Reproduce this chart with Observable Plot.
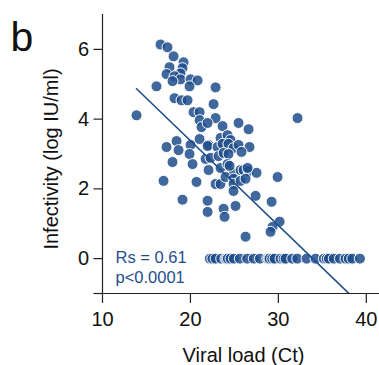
<!DOCTYPE html>
<html>
<head>
<meta charset="utf-8">
<script src="https://cdn.jsdelivr.net/npm/d3@7"></script>
<script src="https://cdn.jsdelivr.net/npm/@observablehq/plot@0.6"></script>
<style>
  html, body { margin: 0; padding: 0; background: #fff; }
  svg { display: block; }
</style>
</head>
<body>
<div id="chart"></div>
<script>
// Positive samples: viral load (Ct) and infectivity (log IU/ml)
const ctPos = [16.60,17.39,18.08,19.22,17.62,19.10,18.87,17.28,18.19,18.87,17.96,20.01,20.81,19.90,16.14,22.86,
  18.19,18.99,19.67,22.63,13.87,20.35,21.04,22.86,21.04,21.26,23.65,25.47,26.61,21.95,
  18.42,17.28,18.65,20.01,21.04,22.06,23.42,24.22,24.56,21.95,23.08,23.65,24.33,24.90,25.47,26.72,
  17.96,19.90,20.24,21.72,22.29,23.20,23.77,24.33,25.81,22.06,23.42,24.22,24.90,25.70,26.04,26.61,27.52,
  22.86,23.42,23.99,24.90,24.90,25.70,26.27,29.91,16.94,20.69,24.90,27.41,19.10,21.95,21.95,23.77,23.88,
  25.13,29.23,30.14,29.34,29.11,26.27,32.18,24.45,26.50];
const infPos = [6.14,6.06,5.80,5.63,5.49,5.46,5.31,5.29,5.23,5.14,5.09,5.14,5.11,4.94,4.94,4.91,
  4.60,4.54,4.54,4.43,4.11,4.20,4.20,4.03,3.97,3.77,3.80,3.89,3.71,3.89,
  3.37,3.20,3.11,3.26,3.43,3.26,3.46,3.54,3.40,3.23,3.20,3.29,3.29,3.17,3.26,3.20,
  2.77,3.00,2.71,2.86,2.89,2.94,3.03,3.00,3.06,2.54,2.60,2.71,2.46,2.54,2.54,2.51,2.46,
  2.14,2.14,2.34,2.29,2.14,2.23,2.29,2.34,2.23,2.20,1.94,1.80,1.69,1.66,1.34,1.43,1.20,
  1.51,1.63,1.06,0.91,0.77,0.63,4.03,2.66,2.60];
// Samples with no measurable infectivity (plotted at 0)
const ctZero = [22.21,22.50,22.86,23.50,23.99,24.10,24.25,24.56,24.94,25.62,26.46,27.21,27.90,28.74,28.90,29.00,
  29.31,29.57,30.25,30.60,30.82,31.58,32.15,33.21,34.23,35.18,35.50,35.75,36.31,37.00,37.64,38.00,38.41,39.27];
const infZero = ctZero.map(() => 0);

// Spearman fit line (intercept, slope) and stats text
const fitIntercept = [8.24];
const fitSlope = [-0.243];
const statsText = ["Rs = 0.61\np<0.0001"];

// Axes
const xTicks = [10, 20, 30, 40];
const yTicks = [-1, 0, 2, 4, 6];
const xDomain = [10, 41.5];
const yDomain = [-1, 7];
const xLabel = ["Viral load (Ct)"];
const yLabel = ["Infectivity (log IU/ml)"];
const panelLabel = ["b"];

const points = ctPos.map((c, i) => ({ct: c, inf: infPos[i]}))
  .concat(ctZero.map((c, i) => ({ct: c, inf: infZero[i]})));
const allCt = points.map(d => d.ct);
const fitLine = [d3.min(allCt), d3.max(allCt)].map(x => ({ct: x, inf: fitIntercept[0] + fitSlope[0] * x}));

const blue = "#1f4e8c";
const font = "'Liberation Sans', Arial, Helvetica, sans-serif";

const chart = Plot.plot({
  width: 379,
  height: 365,
  marginLeft: 102,
  marginTop: 14,
  marginRight: 0,
  marginBottom: 72,
  style: {fontFamily: font, fontSize: "20px", color: "#111", background: "#fff"},
  x: {domain: xDomain},
  y: {domain: yDomain},
  marks: [
    Plot.ruleX([xDomain[0]], {stroke: "#222", strokeWidth: 1.2}),
    Plot.ruleY([yDomain[0]], {stroke: "#222", strokeWidth: 1.2}),
    Plot.axisX({ticks: xTicks, tickSize: 10, tickPadding: 8, label: null, fontSize: 20, stroke: "#222", strokeWidth: 1.2}),
    Plot.axisY({ticks: yTicks, tickFormat: d => d < 0 ? "" : d, tickSize: 8.5, tickPadding: 5, label: null, fontSize: 20, stroke: "#222", strokeWidth: 1.2}),
    Plot.dot(points, {x: "ct", y: "inf", r: 5.5, fill: blue, fillOpacity: 0.85, stroke: "#fff", strokeWidth: 1}),
    Plot.line(fitLine, {x: "ct", y: "inf", stroke: blue, strokeWidth: 1.6, clip: true}),
    Plot.text(statsText, {frameAnchor: "bottom-left", dx: 13, dy: -11, textAnchor: "start", lineAnchor: "bottom", lineHeight: 1.2, fontSize: 16.5, fill: blue}),
    Plot.text(xLabel, {frameAnchor: "bottom", dx: 2.5, dy: 68, lineAnchor: "bottom", fontSize: 20, fill: "#111"}),
    Plot.text(yLabel, {frameAnchor: "left", rotate: -90, dx: -59, dy: 5, textAnchor: "middle", lineAnchor: "top", fontSize: 20, fill: "#111"}),
    Plot.text(panelLabel, {frameAnchor: "top-left", dx: -92, dy: 36, textAnchor: "start", lineAnchor: "bottom", fontSize: 41, fill: "#111"})
  ]
});
document.getElementById("chart").appendChild(chart);
</script>
</body>
</html>
